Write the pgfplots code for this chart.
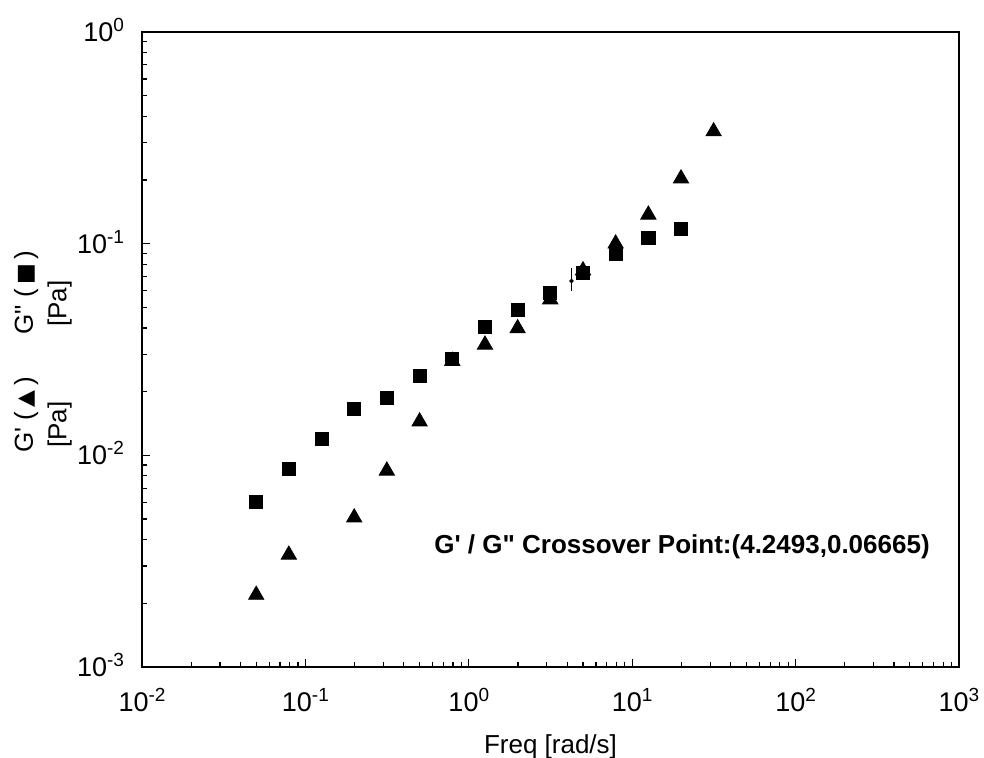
\documentclass[border=0pt]{standalone}
\usepackage{fontspec}
\setmainfont{Liberation Sans}
\newfontfamily\symfont{DejaVu Sans}
\usepackage{pgfplots}
\pgfplotsset{compat=1.18}
\newcommand{\tenexp}[1]{10\raisebox{5pt}{\fontsize{9.5}{10}\selectfont #1}}
\pgfplotstableread{
x y
0.05 0.00605
0.0792 0.00863
0.1256 0.01197
0.199 0.0166
0.315 0.0187
0.5 0.02377
0.792 0.0286
1.256 0.0406
1.99 0.0488
3.15 0.0586
5.0 0.0729
7.92 0.0897
12.56 0.1067
19.9 0.1178
}\Gpp
\pgfplotstableread{
x y
0.05 0.00219
0.0792 0.00339
0.199 0.00508
0.315 0.00846
0.5 0.01444
0.792 0.0279
1.256 0.0333
1.99 0.0398
3.15 0.0545
5.0 0.0747
7.92 0.100
12.56 0.137
19.9 0.203
31.5 0.339
}\Gp
\begin{document}
\begin{tikzpicture}
\begin{axis}[
  at={(0,0)}, anchor=south west,
  scale only axis, width=408.5pt, height=317.5pt,
  xmode=log, ymode=log, log basis x=10, log basis y=10,
  xmin=0.01, xmax=1000, ymin=0.001, ymax=1,
  axis line style={line width=0.9pt},
  tick align=inside, xtick pos=lower, ytick pos=left,
  major tick length=4pt, minor tick length=2.5pt,
  tick style={black, line width=0.6pt},
  xticklabel={\pgfmathtruncatemacro\e{round(\tick)}\tenexp{\e}},
  yticklabel={\pgfmathtruncatemacro\e{round(\tick)}\tenexp{\e}},
  tick label style={font=\fontsize{13.5}{15}\selectfont},
  xticklabel style={anchor=base, yshift=-22.4pt},
  yticklabel style={anchor=base east, yshift=-4.7pt, xshift=-5.5pt},
  clip=false,
]
\addplot[only marks, mark=square*, mark size=3.3pt, black] table[x=x,y=y] {\Gpp};
\addplot[only marks, mark=triangle*, mark size=4.4pt, black] table[x=x,y=y] {\Gp};
\addplot[black, line width=0.6pt] coordinates {(4.2493,0.060) (4.2493,0.077)};
\addplot[only marks, mark=*, mark size=0.9pt, black] coordinates {(4.2493,0.06665)};
\end{axis}
\node[rotate=90, anchor=base west, inner sep=0pt, font=\fontsize{13}{15}\selectfont] at (-54.5pt,166pt) {G\textquotedbl{} (\,{\symfont\fontsize{11}{12}\selectfont ■}\,)};
\node[rotate=90, anchor=base west, inner sep=0pt, font=\fontsize{13}{15}\selectfont] at (-37.75pt,170pt) {[Pa]};
\node[rotate=90, anchor=base west, inner sep=0pt, font=\fontsize{13}{15}\selectfont] at (-54.5pt,107pt) {G\textquotesingle{} (\,{\symfont\fontsize{11}{12}\selectfont ▲}\,)};
\node[rotate=90, anchor=base west, inner sep=0pt, font=\fontsize{13}{15}\selectfont] at (-37.75pt,109.5pt) {[Pa]};
\node[font=\bfseries\fontsize{13}{15}\selectfont] at (270pt,60pt) {G\textquotesingle{} / G\textquotedbl{} Crossover Point:(4.2493,0.06665)};
\node[anchor=base, font=\fontsize{13}{15}\selectfont] at (204.25pt,-43.5pt) {Freq [rad/s]};
\pgfresetboundingbox
\path[use as bounding box] (-71pt,-45.5pt) rectangle (421pt,333.5pt);
\end{tikzpicture}
\end{document}
